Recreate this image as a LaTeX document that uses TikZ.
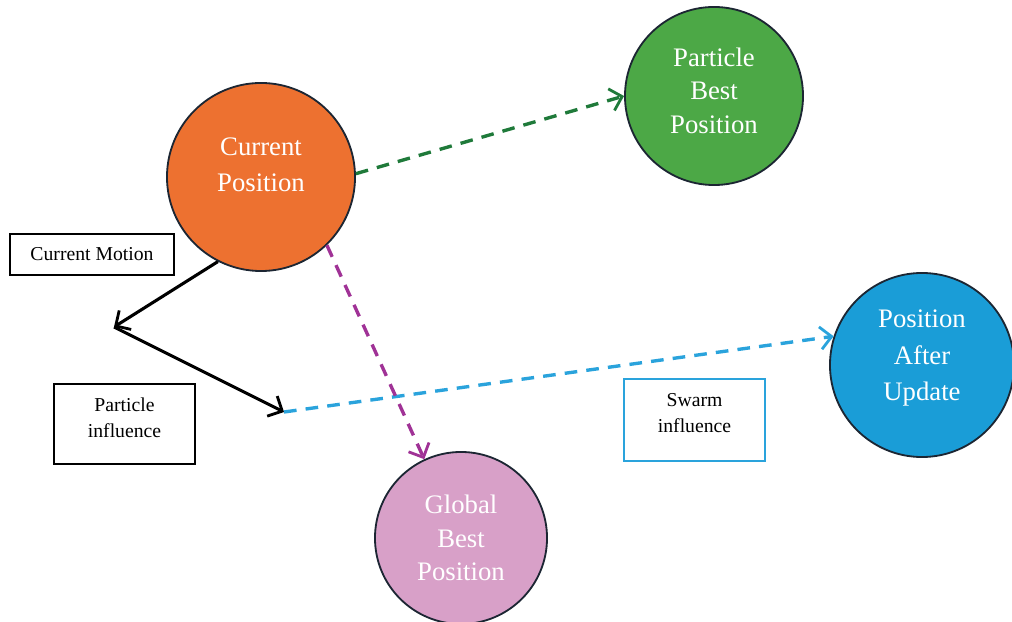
\documentclass[tikz,border=0pt]{standalone}
\usepackage{fontspec}
\setmainfont{Liberation Serif}
\usetikzlibrary{arrows.meta}
\definecolor{orangefill}{HTML}{ED7130}
\definecolor{greenfill}{HTML}{4CA846}
\definecolor{bluefill}{HTML}{1A9DD7}
\definecolor{pinkfill}{HTML}{D8A0C8}
\definecolor{greenline}{HTML}{1F7A3A}
\definecolor{purpleline}{HTML}{A03296}
\definecolor{blueline}{HTML}{2AA3DC}
\definecolor{rimcolor}{HTML}{1C2633}
\tikzset{
	state/.style={
			circle, draw=rimcolor, line width=1.3pt, inner sep=0pt,
			text=white, align=center, font=\fontsize{19}{25.5}\selectfont
		},
	labelbox/.style={
			draw, line width=1.4pt, inner sep=0pt, align=center,
			font=\fontsize{14}{19}\selectfont
		},
	flow/.style={
			line width=2.4pt, dash pattern=on 9pt off 6.5pt,
			-{Straight Barb[length=8pt,width=16pt,line width=2pt]}
		},
	motion/.style={
			line width=2.2pt,
			-{Straight Barb[length=8pt,width=16pt,line width=2pt]}
		}
}
\begin{document}
\begin{tikzpicture}[x=0.025cm,y=-0.025cm]
		\useasboundingbox (0,0) rectangle (1012,622);
		% circles
		\node [state, fill=orangefill, minimum size=4.7cm] (cur) at (261,177) {Current\\Position\rule[-18pt]{0pt}{0pt}};
		\node [state, fill=greenfill, minimum size=4.45cm, font=\fontsize{19}{23.8}\selectfont] (pbest) at (714,96) {Particle\\Best\\Position\rule[-8pt]{0pt}{0pt}};
		\node [state, fill=bluefill, minimum size=4.6cm, font=\fontsize{19}{26.3}\selectfont] (upd) at (922,365) {Position\\After\\Update\rule[-14pt]{0pt}{0pt}};
		\node [state, fill=pinkfill, minimum size=4.3cm, font=\fontsize{19}{23.8}\selectfont] (gbest) at (461,538) {Global\\Best\\Position};
		% text boxes
		\node [labelbox, minimum width=4.1cm, minimum height=1.02cm] (motion) at (92,254.5) {Current Motion};
		\node [labelbox, minimum width=3.52cm, minimum height=2cm] (pinfl) at (124.5,424) {Particle\\influence\rule[-9pt]{0pt}{0pt}};
		\node [labelbox, draw=blueline, minimum width=3.52cm, minimum height=2.05cm] (sinfl) at (694.5,420) {Swarm\\influence\rule[-10pt]{0pt}{0pt}};
		% arrows
		\coordinate (turn) at (114,327);
		\coordinate (join) at (284,412);
		\draw [motion] (cur.-117) -- (turn);
		\draw [motion] (turn) -- (join);
		\draw [flow, color=blueline] (join) -- (upd.162);
		\draw [flow, color=greenline] (cur.2) -- (pbest.180);
		\draw [flow, color=purpleline] (cur.-46) -- (gbest.115);
	\end{tikzpicture}
\end{document}
